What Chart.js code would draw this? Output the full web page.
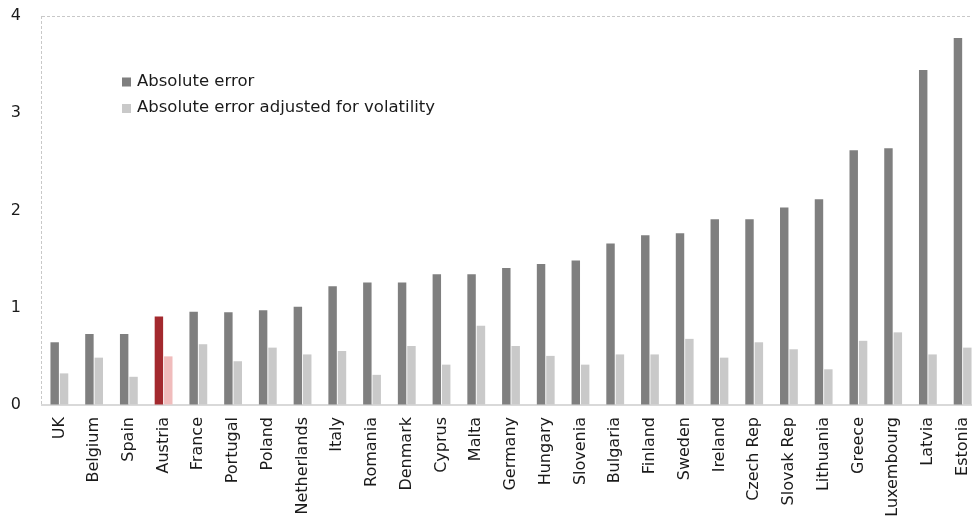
<!DOCTYPE html>
<html>
<head>
<meta charset="utf-8">
<script src="https://cdn.jsdelivr.net/npm/chart.js@4/dist/chart.umd.min.js"></script>
<style>
  html, body { margin: 0; padding: 0; background: #ffffff; overflow: hidden; }
  canvas { display: block; }
</style>
</head>
<body>
<canvas id="c" width="981" height="522" style="width:981px;height:522px"></canvas>
<script>
const countries = ["UK","Belgium","Spain","Austria","France","Portugal","Poland","Netherlands","Italy","Romania","Denmark","Cyprus","Malta","Germany","Hungary","Slovenia","Bulgaria","Finland","Sweden","Ireland","Czech Rep","Slovak Rep","Lithuania","Greece","Luxembourg","Latvia","Estonia"];
const absoluteError = [0.645,0.73,0.73,0.91,0.96,0.955,0.975,1.01,1.22,1.26,1.26,1.345,1.345,1.41,1.45,1.485,1.66,1.745,1.765,1.91,1.91,2.03,2.115,2.62,2.64,3.445,3.775];
const adjustedError = [0.325,0.487,0.29,0.50,0.625,0.45,0.59,0.52,0.555,0.31,0.607,0.415,0.815,0.607,0.505,0.415,0.52,0.52,0.68,0.487,0.645,0.573,0.367,0.66,0.747,0.52,0.59];
const seriesNames = ["Absolute error","Absolute error adjusted for volatility"];
const yTicks = [0,1,2,3,4];
const highlight = "Austria";

const darkGray = "#7f7f7f", lightGray = "#c9c9c9";
const darkRed = "#a3292e", lightRed = "#f0bcbc";
const darkColors = countries.map(c => c === highlight ? darkRed : darkGray);
const lightColors = countries.map(c => c === highlight ? lightRed : lightGray);
const FONT = "'DejaVu Sans', Verdana, sans-serif";

const insideLegend = {
  id: 'insideLegend',
  afterDraw(chart) {
    const ctx = chart.ctx;
    ctx.save();
    ctx.font = "16.5px " + FONT;
    ctx.textBaseline = 'middle';
    ctx.textAlign = 'left';
    const rows = [81.5, 108];
    chart.data.datasets.forEach((ds, i) => {
      const y = rows[i];
      ctx.fillStyle = i === 0 ? darkGray : lightGray;
      ctx.fillRect(122, y - 4, 9, 9);
      ctx.fillStyle = '#1a1a1a';
      ctx.fillText(ds.label, 137, y);
    });
    ctx.restore();
  }
};

function noPad(s) { s.paddingLeft = 0; s.paddingRight = 0; s.paddingTop = 0; s.paddingBottom = 0; }

new Chart(document.getElementById('c'), {
  type: 'bar',
  data: {
    labels: countries,
    datasets: [
      { label: seriesNames[0], data: absoluteError, backgroundColor: darkColors, borderWidth: 0,
        categoryPercentage: 0.54, barPercentage: 0.9 },
      { label: seriesNames[1], data: adjustedError, backgroundColor: lightColors, borderWidth: 0,
        categoryPercentage: 0.54, barPercentage: 0.9 }
    ]
  },
  options: {
    responsive: false,
    maintainAspectRatio: false,
    animation: false,
    devicePixelRatio: 1,
    layout: { padding: { top: 16, right: 1, bottom: 0, left: 0 } },
    plugins: { legend: { display: false }, tooltip: { enabled: false } },
    scales: {
      x: {
        afterFit(s) { s.height = 117; noPad(s); },
        ticks: { minRotation: 90, maxRotation: 90, autoSkip: false, padding: 12,
                 color: '#1a1a1a', font: { family: FONT, size: 16 } },
        grid: { drawTicks: false, lineWidth: 1,
                color: (ctx) => ctx.index === 0 ? '#c8c8c8' : 'rgba(0,0,0,0)' },
        border: { display: true, color: '#d9d9d9', width: 2, dash: [3, 2] }
      },
      y: {
        min: 0, max: 4,
        afterFit(s) { s.width = 42; noPad(s); },
        afterBuildTicks(s) { s.ticks = yTicks.map(v => ({ value: v })); },
        ticks: { padding: 21, color: '#1a1a1a', font: { family: FONT, size: 16 } },
        grid: { drawTicks: false, lineWidth: 1,
                color: (ctx) => (ctx.tick && ctx.tick.value === 4) ? '#c8c8c8' : 'rgba(0,0,0,0)' },
        border: { display: false, dash: [3, 2] }
      }
    }
  },
  plugins: [insideLegend]
});
</script>
</body>
</html>
